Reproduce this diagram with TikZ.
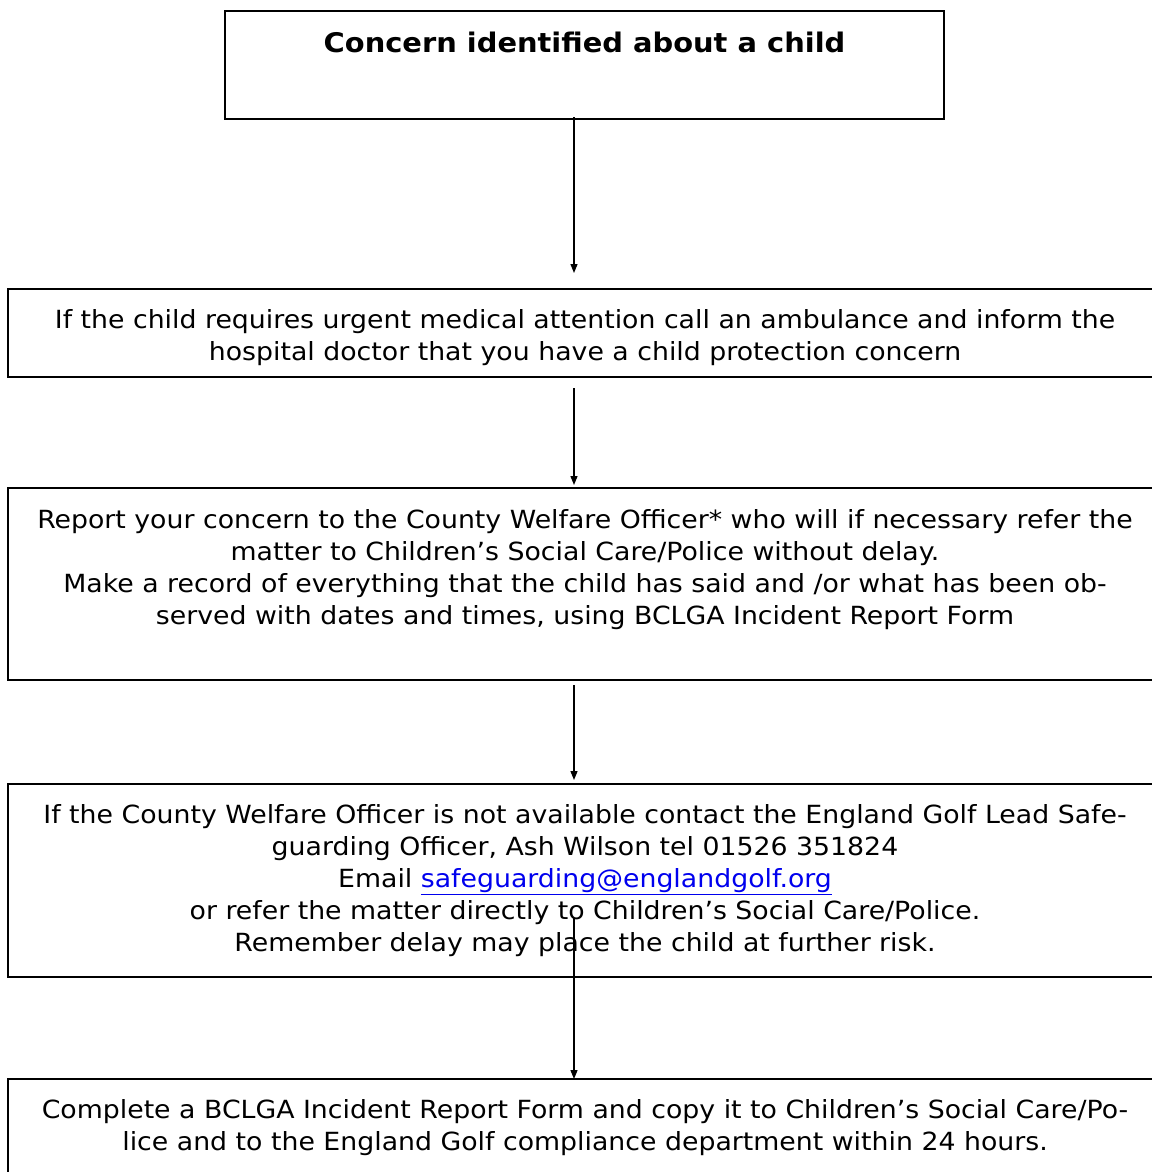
\documentclass[tikz,border=0pt]{standalone}
\usepackage{fontspec}
\setmainfont[FakeStretch=1.07]{DejaVu Sans}
\usetikzlibrary{arrows.meta}
\definecolor{linkblue}{RGB}{0,0,238}
\tikzset{
  box/.style={draw=black,line width=2.6pt,fill=none},
  txt/.style={align=center,font=\fontsize{25}{32}\selectfont,inner sep=0pt,anchor=north},
  ttl/.style={align=center,font=\fontsize{27}{32}\selectfont\bfseries,inner sep=0pt},
  arr/.style={line width=1.3pt,-{Triangle[length=9pt,width=7pt]}}
}
\begin{document}
\begin{tikzpicture}[x=1pt,y=-1pt]
\useasboundingbox (0,0) rectangle (1151,1172);
\fill[white] (0,0) rectangle (1151,1172);
% boxes
\draw[box] (225,11) rectangle (944,119);
\node[ttl] (t1) at (584.5,42) {Concern identified about a child};
\draw[box] (8,289) rectangle (1164,377);
\draw[box] (8,488) rectangle (1164,680);
\draw[box] (8,784) rectangle (1164,977);
\draw[box] (8,1079) rectangle (1164,1190);
% texts
\node[txt] (t2) at (585,309) {If the child requires urgent medical attention call an ambulance and inform the\\hospital doctor that you have a child protection concern};
\node[txt] (t3) at (585,509) {Report your concern to the County Welfare Officer* who will if necessary refer the\\matter to Children’s Social Care/Police without delay.\\Make a record of everything that the child has said and /or what has been ob-\\served with dates and times, using BCLGA Incident Report Form};
\node[txt] (t4) at (585,804) {If the County Welfare Officer is not available contact the England Golf Lead Safe-\\guarding Officer, Ash Wilson tel 01526 351824\\Email \textcolor{linkblue}{\underline{safeguarding@englandgolf.org}}\\or refer the matter directly to Children’s Social Care/Police.\\Remember delay may place the child at further risk.};
\node[txt] (t5) at (585,1099) {Complete a BCLGA Incident Report Form and copy it to Children’s Social Care/Po-\\lice and to the England Golf compliance department within 24 hours.};
% arrows
\coordinate (a1s) at (574,117);
\coordinate (a1e) at (574,273);
\coordinate (a2s) at (574,388);
\coordinate (a2e) at (574,485);
\coordinate (a3s) at (574,685);
\coordinate (a3e) at (574,780);
\coordinate (a4s) at (574,918);
\coordinate (a4e) at (574,1079);
\draw[arr] (a1s) -- (a1e);
\draw[arr] (a2s) -- (a2e);
\draw[arr] (a3s) -- (a3e);
\draw[arr] (a4s) -- (a4e);
\end{tikzpicture}
\end{document}
